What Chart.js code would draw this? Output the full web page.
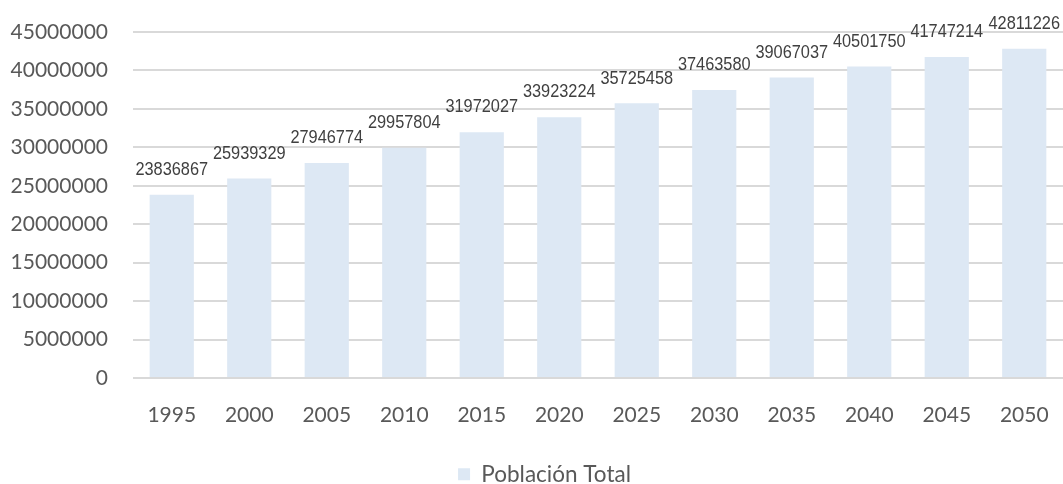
<!DOCTYPE html>
<html>
<head>
<meta charset="utf-8">
<script src="https://cdn.jsdelivr.net/npm/chart.js@4"></script>
<style>
  html, body { margin: 0; padding: 0; background: #fff; }
  #wrap { width: 1063px; height: 484px; position: relative; }
</style>
</head>
<body>
<div id="wrap"><canvas id="popChart"></canvas></div>
<script>
const years = ["1995", "2000", "2005", "2010", "2015", "2020", "2025", "2030", "2035", "2040", "2045", "2050"];
const poblacion = [23836867, 25939329, 27946774, 29957804, 31972027, 33923224, 35725458, 37463580, 39067037, 40501750, 41747214, 42811226];
const yMax = 45000000;
const yStep = 5000000;

const axisFont = { family: "Lato, 'Open Sans', sans-serif", size: 21 };

// value labels above each bar (narrow look: squeeze the text horizontally)
const barLabels = {
  id: "barLabels",
  afterLayout(chart) {
    // legend sits a bit right of the canvas centre in the original
    chart.legend.left += 13;
    chart.legend.right += 13;
  },
  afterDatasetsDraw(chart) {
    const ctx = chart.ctx;
    const meta = chart.getDatasetMeta(0);
    const squeeze = 0.86;
    ctx.save();
    ctx.font = "19px 'Liberation Sans', Arial, sans-serif";
    ctx.fillStyle = "#404040";
    ctx.textAlign = "center";
    ctx.textBaseline = "middle";
    meta.data.forEach((bar, i) => {
      ctx.save();
      ctx.translate(bar.x, bar.y - 25);
      ctx.scale(squeeze, 1);
      ctx.fillText(String(poblacion[i]), 0, 0);
      ctx.restore();
    });
    ctx.restore();
  },
};

new Chart(document.getElementById("popChart"), {
  type: "bar",
  data: {
    labels: years,
    datasets: [
      {
        label: "Población Total",
        data: poblacion,
        backgroundColor: "#dde8f4",
        borderWidth: 0,
        categoryPercentage: 1,
        barPercentage: 0.57,
      },
    ],
  },
  options: {
    responsive: true,
    maintainAspectRatio: false,
    animation: false,
    layout: { padding: { top: 32, right: 0, left: 0, bottom: -11.5 } },
    plugins: {
      tooltip: { enabled: false },
      legend: {
        position: "bottom",
        labels: {
          color: "#595959",
          font: { family: axisFont.family, size: 22.5 },
          boxWidth: 12,
          boxHeight: 12,
          padding: 1,
        },
      },
    },
    scales: {
      x: {
        grid: { display: false },
        border: { display: false },
        ticks: { color: "#595959", font: axisFont, padding: 17, maxRotation: 0 },
        afterFit: (s) => {
          s.height = 84;
          s.paddingLeft = 0;
          s.paddingRight = 0;
        },
      },
      y: {
        min: 0,
        max: yMax,
        grid: { color: "#d9d9d9", lineWidth: 2, drawTicks: false },
        border: { display: false },
        ticks: {
          stepSize: yStep,
          color: "#595959",
          font: axisFont,
          padding: 25,
          callback: (v) => String(v),
        },
        afterFit: (s) => {
          s.width = 133;
          s.paddingTop = 0;
          s.paddingBottom = 0;
        },
      },
    },
  },
  plugins: [barLabels],
});
</script>
</body>
</html>
